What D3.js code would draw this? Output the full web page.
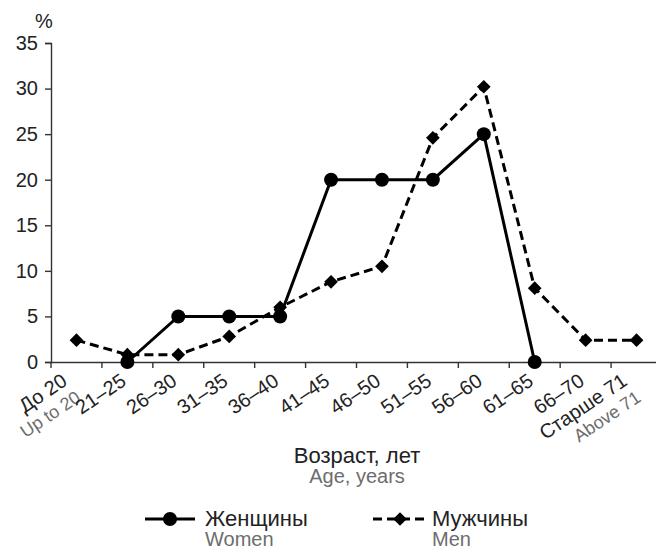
<!DOCTYPE html>
<html>
<head>
<meta charset="utf-8">
<script src="https://cdn.jsdelivr.net/npm/d3@7"></script>
<style>
  body { margin: 0; background: #fff; }
  svg text { font-family: "Liberation Sans", Arial, sans-serif; }
</style>
</head>
<body>
<div id="chart"></div>
<script>
// age groups (russian + english subtitle)
const categories = ["До 20", "21–25", "26–30", "31–35", "36–40", "41–45", "46–50", "51–55", "56–60", "61–65", "66–70", "Старше 71"];
const categoriesEn = ["Up to 20", "", "", "", "", "", "", "", "", "", "", "Above 71"];

// share, %
const women = [null, 0, 5, 5, 5, 20, 20, 20, 25, 0, null, null];
const men = [2.4, 0.8, 0.8, 2.8, 6, 8.8, 10.5, 24.6, 30.2, 8.1, 2.4, 2.4];

const yTicks = [0, 5, 10, 15, 20, 25, 30, 35];

const width = 656, height = 550;
const margin = {top: 43, left: 51};

const svg = d3.select("#chart").append("svg")
    .attr("width", width)
    .attr("height", height);

const x = d3.scaleBand()
    .domain(categories)
    .range([margin.left, 662]);

const y = d3.scaleLinear()
    .domain([0, 35])
    .range([362, margin.top]);

const cx = d => x(d) + x.bandwidth() / 2;

// y axis
const yAxis = svg.append("g")
    .attr("transform", "translate(" + margin.left + ",0)")
    .call(d3.axisLeft(y).tickValues(yTicks).tickSize(6).tickPadding(7));
yAxis.selectAll("text")
    .attr("font-size", 20)
    .attr("fill", "#222")
    .attr("font-family", "Liberation Sans, Arial, sans-serif");

// x axis
const xAxis = svg.append("g")
    .attr("transform", "translate(0," + y(0) + ")")
    .call(d3.axisBottom(x).tickSize(0).tickFormat(""));

// ticks between categories
xAxis.selectAll(".sep")
    .data(d3.range(categories.length + 1))
    .enter().append("line")
    .attr("class", "sep")
    .attr("x1", i => margin.left + i * x.step())
    .attr("x2", i => margin.left + i * x.step())
    .attr("y1", 0).attr("y2", 6);

svg.selectAll(".domain, .tick line, .sep").attr("stroke", "#333").attr("stroke-width", 1.4);

// rotated tick labels
const labels = svg.append("g").selectAll("text")
    .data(categories)
    .enter().append("text")
    .attr("text-anchor", "end")
    .attr("transform", (d, i) => {
        let off = categoriesEn[i] ? -8 : 0;
        return "translate(" + (cx(d) + off) + ",384) rotate(-34)";
    });

labels.append("tspan")
    .attr("font-size", 20)
    .attr("fill", "#222")
    .text(d => d);

labels.append("tspan")
    .attr("x", 2)
    .attr("dy", 21)
    .attr("font-size", 18)
    .attr("fill", "#6d6d6d")
    .text((d, i) => categoriesEn[i]);

// axis titles
svg.append("text")
    .attr("x", 35).attr("y", 28)
    .attr("font-size", 20).attr("fill", "#222")
    .text("%");

svg.append("text")
    .attr("x", 357).attr("y", 463)
    .attr("text-anchor", "middle")
    .attr("font-size", 22).attr("fill", "#222")
    .text("Возраст, лет");

svg.append("text")
    .attr("x", 357).attr("y", 483)
    .attr("text-anchor", "middle")
    .attr("font-size", 20).attr("fill", "#6d6d6d")
    .text("Age, years");

// lines
const line = d3.line()
    .defined(d => d.v !== null)
    .x(d => cx(d.c))
    .y(d => y(d.v));

const womenData = categories.map((c, i) => ({c: c, v: women[i]}));
const menData = categories.map((c, i) => ({c: c, v: men[i]}));

svg.append("path")
    .datum(womenData)
    .attr("d", line)
    .attr("fill", "none")
    .attr("stroke", "#000")
    .attr("stroke-width", 3);

svg.selectAll(".wdot")
    .data(womenData.filter(d => d.v !== null))
    .enter().append("circle")
    .attr("class", "wdot")
    .attr("cx", d => cx(d.c))
    .attr("cy", d => y(d.v))
    .attr("r", 7)
    .attr("fill", "#000");

svg.append("path")
    .datum(menData)
    .attr("d", line)
    .attr("fill", "none")
    .attr("stroke", "#000")
    .attr("stroke-width", 3)
    .attr("stroke-dasharray", "9,5");

const diamond = d3.symbol().type(d3.symbolDiamond2).size(120);

svg.selectAll(".mdot")
    .data(menData)
    .enter().append("path")
    .attr("class", "mdot")
    .attr("d", diamond)
    .attr("transform", d => "translate(" + cx(d.c) + "," + y(d.v) + ")")
    .attr("fill", "#000");

// legend
const legend = svg.append("g");

legend.append("line")
    .attr("x1", 145).attr("x2", 195).attr("y1", 519).attr("y2", 519)
    .attr("stroke", "#000").attr("stroke-width", 3);
legend.append("circle")
    .attr("cx", 170).attr("cy", 519).attr("r", 7).attr("fill", "#000");
legend.append("text")
    .attr("x", 205).attr("y", 526)
    .attr("font-size", 22).attr("fill", "#222").text("Женщины");
legend.append("text")
    .attr("x", 205).attr("y", 546)
    .attr("font-size", 20).attr("fill", "#6d6d6d").text("Women");

legend.append("line")
    .attr("x1", 373).attr("x2", 428).attr("y1", 519).attr("y2", 519)
    .attr("stroke", "#000").attr("stroke-width", 3)
    .attr("stroke-dasharray", "9,5");
legend.append("path")
    .attr("d", diamond)
    .attr("transform", "translate(400,519)")
    .attr("fill", "#000");
legend.append("text")
    .attr("x", 432).attr("y", 526)
    .attr("font-size", 22).attr("fill", "#222").text("Мужчины");
legend.append("text")
    .attr("x", 432).attr("y", 546)
    .attr("font-size", 20).attr("fill", "#6d6d6d").text("Men");
</script>
</body>
</html>
